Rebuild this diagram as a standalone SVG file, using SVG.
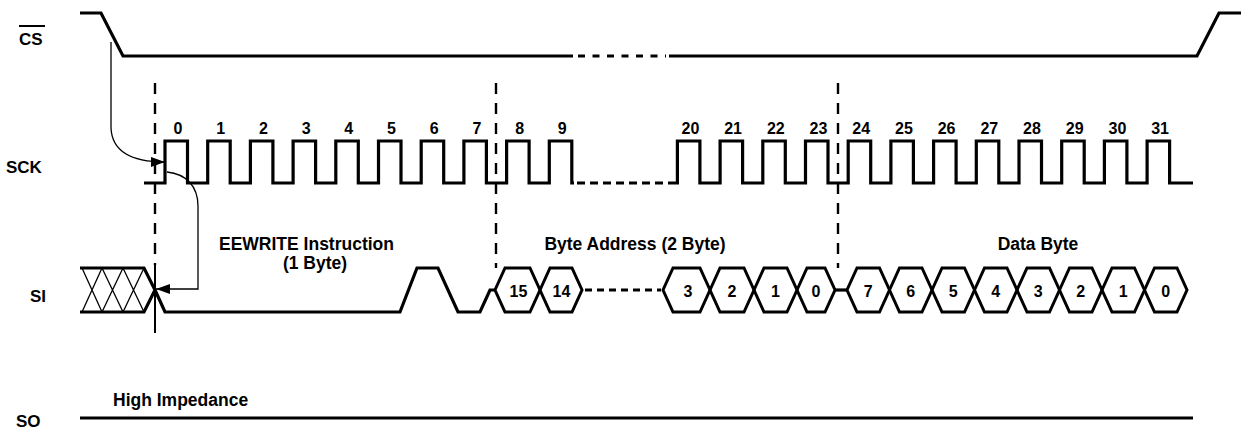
<svg xmlns="http://www.w3.org/2000/svg" width="1241" height="429" viewBox="0 0 1241 429">
<defs>
<style>
text{font-family:"Liberation Sans",Arial,sans-serif;font-weight:bold;fill:#000}
.lbl{font-size:17px}
.num{font-size:16px;text-anchor:middle}
.cap{font-size:17.5px}
.w{fill:none;stroke:#000;stroke-width:3.2;stroke-linejoin:miter}
.dot{fill:none;stroke:#000;stroke-width:3.2;stroke-dasharray:7 7.5}
.hex{fill:none;stroke:#000;stroke-width:3;stroke-linejoin:miter}
.thin{fill:none;stroke:#000;stroke-width:1.3}
.div{fill:none;stroke:#000;stroke-width:2.4;stroke-dasharray:11 9}
</style>
<marker id="ah" viewBox="0 0 14 10" refX="14" refY="5" markerWidth="14" markerHeight="10" markerUnits="userSpaceOnUse" orient="auto">
<path d="M0,0 L14,5 L0,10 Z" fill="#000"/>
</marker>
</defs>
<rect width="1241" height="429" fill="#fff"/>

<g id="labels">
<text class="lbl" x="19" y="45">CS</text>
<line x1="19" y1="26" x2="45" y2="26" stroke="#000" stroke-width="2"/>
<text class="lbl" x="6" y="173">SCK</text>
<text class="lbl" x="30" y="302">SI</text>
<text class="lbl" x="16" y="427">SO</text>
</g>

<g id="cs">
<path class="w" d="M80,13 H101 L123,56 H573"/>
<path class="dot" d="M578,56 H666"/>
<path class="w" d="M669,56 H1197 L1219,13 H1241"/>
</g>

<g id="dividers">
<path class="div" d="M155,83 V265"/>
<path fill="none" stroke="#000" stroke-width="2" d="M155,265 V333"/>
<path class="div" d="M496,83 V268"/>
<path class="div" d="M838,83 V268"/>
</g>

<g id="sck">
<path class="w" d="M144,183 H165 V141 H187.5 V183 H207.7 V141 H230.2 V183 H250.4 V141 H272.9 V183 H293.1 V141 H315.6 V183 H335.8 V141 H358.3 V183 H378.5 V141 H401 V183 H421.2 V141 H443.7 V183 H463.9 V141 H486.4 V183 H506.6 V141 H529.1 V183 H549.3 V141 H571.8 V183 H574"/>
<path class="w" style="stroke-dasharray:8 5" d="M577,183 H675"/>
<path class="w" d="M675,183 H677.4 V141 H699.9 V183 H720.1 V141 H742.6 V183 H762.8 V141 H785.3 V183 H805.5 V141 H828 V183 H848.2 V141 H870.7 V183 H890.9 V141 H913.4 V183 H933.6 V141 H956.1 V183 H976.3 V141 H998.8 V183 H1019 V141 H1041.5 V183 H1061.7 V141 H1084.2 V183 H1104.4 V141 H1126.9 V183 H1147.1 V141 H1169.6 V183 H1193"/>
<text class="num" x="178" y="134">0</text>
<text class="num" x="220.7" y="134">1</text>
<text class="num" x="263.4" y="134">2</text>
<text class="num" x="306.1" y="134">3</text>
<text class="num" x="348.8" y="134">4</text>
<text class="num" x="391.5" y="134">5</text>
<text class="num" x="434.2" y="134">6</text>
<text class="num" x="476.9" y="134">7</text>
<text class="num" x="519.6" y="134">8</text>
<text class="num" x="562.3" y="134">9</text>
<text class="num" x="690.4" y="134">20</text>
<text class="num" x="733.1" y="134">21</text>
<text class="num" x="775.8" y="134">22</text>
<text class="num" x="818.5" y="134">23</text>
<text class="num" x="861.2" y="134">24</text>
<text class="num" x="903.9" y="134">25</text>
<text class="num" x="946.6" y="134">26</text>
<text class="num" x="989.3" y="134">27</text>
<text class="num" x="1032" y="134">28</text>
<text class="num" x="1074.7" y="134">29</text>
<text class="num" x="1117.4" y="134">30</text>
<text class="num" x="1160.1" y="134">31</text>
</g>

<g id="si">
<path class="w" d="M80,268 H144 L155,290 L144,312 H80"/>
<path class="thin" d="M82,268 L102,312 M102,268 L82,312 M102,268 L123,312 M123,268 L102,312 M123,268 L144,312 M144,268 L123,312"/>
<path class="w" d="M155,290 L165,312 H400 L417,268 H438 L458,312 H480 L490,290 H495"/>
<polygon class="hex" points="495,290 505,268 530,268 540,290 530,312 505,312"/>
<polygon class="hex" points="540,290 550,268 572,268 582,290 572,312 550,312"/>
<path class="dot" style="stroke-dasharray:7 5" d="M585,290 H661"/>
<polygon class="hex" points="663,290 673,268 700,268 710,290 700,312 673,312"/>
<polygon class="hex" points="710,290 720,268 744,268 754,290 744,312 720,312"/>
<polygon class="hex" points="754,290 764,268 787,268 797,290 787,312 764,312"/>
<polygon class="hex" points="797,290 807,268 825,268 835,290 825,312 807,312"/>
<path class="w" d="M835,290 H847"/>
<polygon class="hex" points="847,290 857,268 879.5,268 889.5,290 879.5,312 857,312"/>
<polygon class="hex" points="889.5,290 899.5,268 922,268 932,290 922,312 899.5,312"/>
<polygon class="hex" points="932,290 942,268 964.5,268 974.5,290 964.5,312 942,312"/>
<polygon class="hex" points="974.5,290 984.5,268 1007,268 1017,290 1007,312 984.5,312"/>
<polygon class="hex" points="1017,290 1027,268 1049.5,268 1059.5,290 1049.5,312 1027,312"/>
<polygon class="hex" points="1059.5,290 1069.5,268 1092,268 1102,290 1092,312 1069.5,312"/>
<polygon class="hex" points="1102,290 1112,268 1134.5,268 1144.5,290 1134.5,312 1112,312"/>
<polygon class="hex" points="1144.5,290 1154.5,268 1177,268 1187,290 1177,312 1154.5,312"/>
<text class="num" x="518.5" y="297">15</text>
<text class="num" x="561.5" y="297">14</text>
<text class="num" x="688" y="297">3</text>
<text class="num" x="732" y="297">2</text>
<text class="num" x="775.5" y="297">1</text>
<text class="num" x="816" y="297">0</text>
<text class="num" x="868.2" y="297">7</text>
<text class="num" x="910.7" y="297">6</text>
<text class="num" x="953.2" y="297">5</text>
<text class="num" x="995.7" y="297">4</text>
<text class="num" x="1038.2" y="297">3</text>
<text class="num" x="1080.7" y="297">2</text>
<text class="num" x="1123.2" y="297">1</text>
<text class="num" x="1165.7" y="297">0</text>
<text class="cap" x="306.5" y="250" text-anchor="middle">EEWRITE Instruction</text>
<text class="cap" x="315" y="269" text-anchor="middle">(1 Byte)</text>
<text class="cap" x="635" y="250" text-anchor="middle">Byte Address (2 Byte)</text>
<text class="cap" x="1038" y="250" text-anchor="middle">Data Byte</text>
</g>

<g id="so">
<path class="w" d="M80,418 H1193"/>
<text class="cap" x="113" y="406">High Impedance</text>
</g>

<g id="connectors">
<path class="thin" marker-end="url(#ah)" d="M111,42 V128 C112,150 128,162 165,162"/>
<path class="thin" marker-end="url(#ah)" d="M167,172 C186,174 198,186 198,206 V289 H156"/>
</g>
</svg>
